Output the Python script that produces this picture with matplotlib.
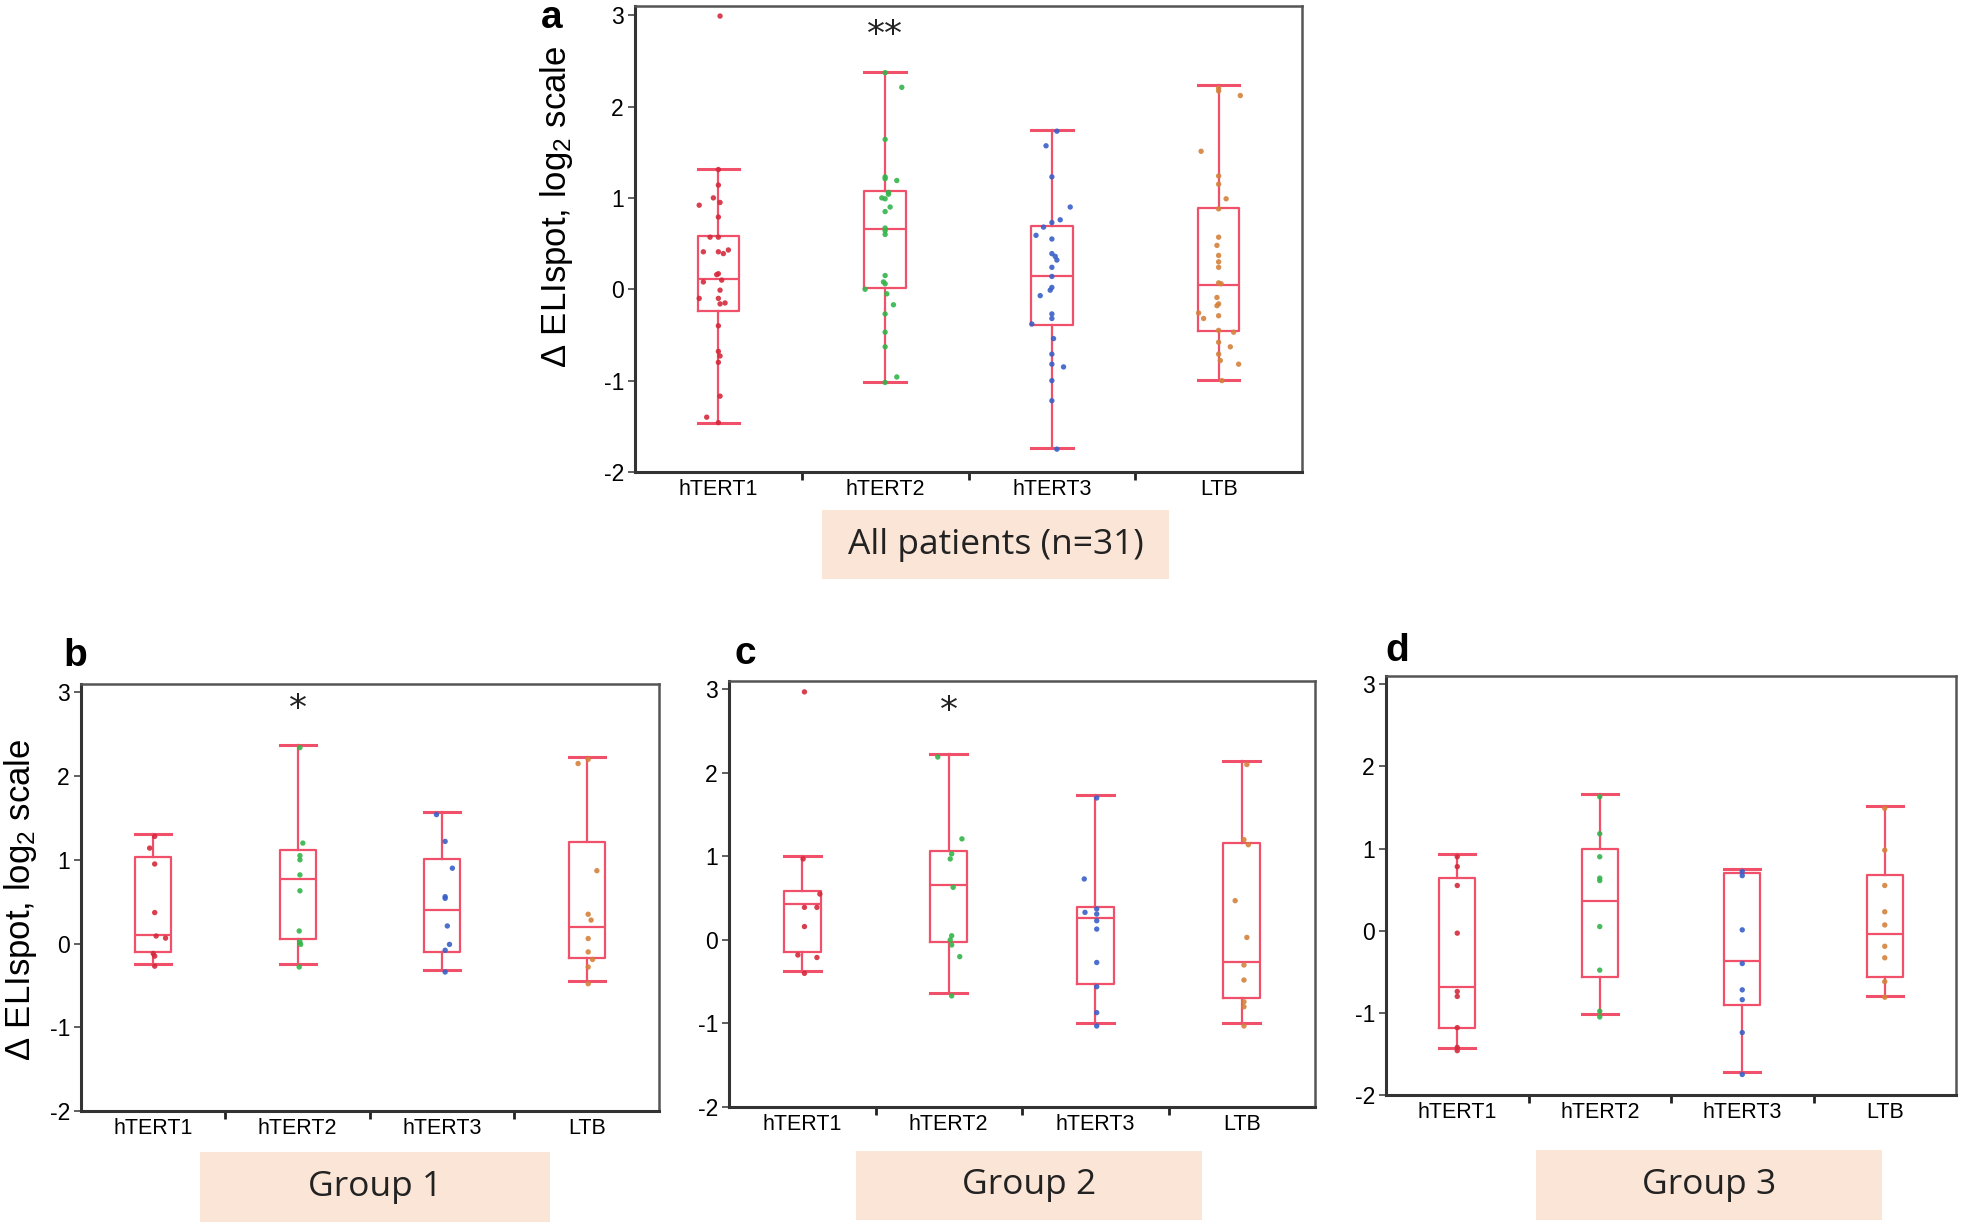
import matplotlib
matplotlib.use('Agg')
import matplotlib.pyplot as plt
from matplotlib.patches import Rectangle
import numpy as np

plt.rcParams['font.family'] = ['Liberation Sans', 'DejaVu Sans']
plt.rcParams['mathtext.fontset'] = 'custom'
plt.rcParams['mathtext.rm'] = 'Liberation Sans'
plt.rcParams['mathtext.default'] = 'regular'

# categories and colours of the dots
categories = ['hTERT1', 'hTERT2', 'hTERT3', 'LTB']
dot_colors = ['#d42a3c', '#33b54a', '#3a60c8', '#d4823c']
BOX_COLOR = '#f0506a'

# ---- panel a: all patients ----
a_hi = [1.32, 2.38, 1.74, 2.24]
a_q3 = [0.58, 1.07, 0.69, 0.89]
a_med = [0.11, 0.66, 0.15, 0.05]
a_q1 = [-0.24, 0.01, -0.39, -0.46]
a_lo = [-1.46, -1.01, -1.74, -0.99]
a_pts = [
    [2.99, 1.31, 1.14, 0.92, 1.0, 0.95, 0.79, 0.57, 0.57, 0.41, 0.41, 0.39, 0.43, 0.17, 0.16,
     0.08, 0.10, -0.10, -0.10, -0.01, -0.16, -0.15, -0.40, -0.68, -0.73, -0.80, -1.17, -1.40, -1.46],
    [2.37, 2.21, 1.64, 1.23, 1.21, 1.19, 1.06, 1.04, 1.0, 0.99, 0.90, 0.85, 0.67, 0.64, 0.60,
     0.15, 0.08, 0.06, 0.0, -0.05, -0.17, -0.27, -0.47, -0.63, -0.96, -1.02],
    [1.73, 1.57, 1.23, 0.90, 0.76, 0.73, 0.68, 0.59, 0.55, 0.39, 0.36, 0.32, 0.24, 0.14, 0.02,
     -0.01, -0.07, -0.27, -0.32, -0.38, -0.54, -0.71, -0.82, -0.85, -1.0, -1.22, -1.75],
    [2.20, 2.17, 2.12, 1.51, 1.24, 1.15, 0.99, 0.88, 0.57, 0.48, 0.37, 0.30, 0.24, 0.07, 0.06,
     -0.09, -0.16, -0.18, -0.26, -0.29, -0.32, -0.45, -0.47, -0.58, -0.63, -0.71, -0.78, -0.82, -1.0],
]
a_jit = [
    [0.01, 0, 0, -0.115, -0.03, 0.01, 0, -0.05, 0, -0.09, 0, 0.03, 0.06, 0, -0.01,
     -0.09, 0.02, -0.115, 0, 0.01, 0.01, 0.04, 0, 0, 0.01, 0, 0.01, -0.07, 0],
    [0, 0.1, 0, 0, 0, 0.07, 0.02, 0.02, -0.02, 0, 0.03, 0, 0, 0, 0,
     0, -0.01, 0, -0.12, 0.01, 0.05, 0, 0, 0, 0.07, 0],
    [0.03, -0.035, 0, 0.11, 0.05, 0, -0.05, -0.095, 0, 0, 0.02, 0.03, 0, 0, 0,
     -0.01, -0.07, 0, 0, -0.12, 0.01, 0, 0, 0.07, 0, 0, 0.03],
    [0, 0, 0.13, -0.105, 0, 0, 0.045, 0, 0, -0.01, 0, 0, 0, 0, 0.015,
     -0.01, 0, -0.01, -0.12, 0, -0.09, 0, 0.09, 0, 0.07, 0, 0.01, 0.12, 0.02],
]

# ---- panel b: group 1 ----
b_hi = [1.31, 2.37, 1.57, 2.23]
b_q3 = [1.03, 1.12, 1.01, 1.21]
b_med = [0.105, 0.765, 0.40, 0.20]
b_q1 = [-0.105, 0.05, -0.105, -0.17]
b_lo = [-0.24, -0.25, -0.31, -0.45]
b_pts = [
    [1.28, 1.14, 0.95, 0.37, 0.09, 0.065, -0.12, -0.15, -0.27],
    [2.34, 1.20, 1.05, 1.0, 0.82, 0.63, 0.15, 0.02, -0.01, -0.28],
    [1.54, 1.22, 0.90, 0.56, 0.54, 0.21, -0.01, -0.08, -0.34],
    [2.15, 2.20, 0.87, 0.35, 0.28, 0.06, -0.10, -0.19, -0.28, -0.48],
]
b_jit = [
    [0.01, -0.025, 0.01, 0.01, 0.02, 0.085, 0, 0.01, 0.01],
    [0.015, 0.035, 0.015, 0.015, 0.015, 0.015, 0.01, 0.015, 0.02, 0.01],
    [-0.04, 0.02, 0.07, 0.02, 0.02, 0.035, 0.05, 0.02, 0.02],
    [-0.06, 0.01, 0.07, 0.01, 0.03, 0.01, 0.01, 0.04, 0.01, 0.01],
]

# ---- panel c: group 2 ----
c_hi = [1.0, 2.23, 1.74, 2.14]
c_q3 = [0.58, 1.06, 0.40, 1.16]
c_med = [0.43, 0.66, 0.26, -0.26]
c_q1 = [-0.14, -0.02, -0.53, -0.70]
c_lo = [-0.37, -0.63, -1.0, -1.0]
c_pts = [
    [2.97, 0.97, 0.55, 0.39, 0.39, 0.16, -0.18, -0.21, -0.40],
    [2.19, 1.21, 1.03, 0.97, 0.63, 0.05, 0.0, -0.06, -0.20, -0.67],
    [1.70, 0.73, 0.33, 0.37, 0.31, 0.23, 0.13, -0.27, -0.56, -0.87, -1.03],
    [2.10, 1.20, 1.14, 0.47, 0.03, -0.30, -0.48, -0.74, -0.80, -1.03],
]
c_jit = [
    [0.015, 0.006, 0.12, 0.015, 0.1, 0.015, -0.03, 0.1, 0.015],
    [-0.075, 0.09, 0.02, 0.01, 0.03, 0.02, 0.01, 0.02, 0.075, 0.02],
    [0.01, -0.075, -0.07, 0.01, 0.01, 0.01, 0.01, 0.01, 0.01, 0.01, 0.01],
    [0.035, 0.015, 0.045, -0.045, 0.035, 0.015, 0.015, 0.015, 0.015, 0.015],
]

# ---- panel d: group 3 ----
d_hi = [0.93, 1.66, 0.75, 1.52]
d_q3 = [0.64, 0.99, 0.70, 0.68]
d_med = [-0.69, 0.365, -0.37, -0.04]
d_q1 = [-1.19, -0.56, -0.91, -0.56]
d_lo = [-1.43, -1.01, -1.72, -0.79]
d_pts = [
    [0.90, 0.78, 0.55, -0.03, -0.74, -0.80, -1.18, -1.42, -1.46],
    [1.63, 1.18, 0.90, 0.64, 0.61, 0.05, -0.48, -0.98, -1.05],
    [0.72, 0.67, 0.01, -0.40, -0.72, -0.84, -1.24, -1.75],
    [1.49, 0.98, 0.55, 0.23, 0.07, -0.19, -0.33, -0.62, -0.81],
]
d_jit = [[0.0] * len(p) for p in d_pts]

W, H = 1961, 1227
fig = plt.figure(figsize=(W / 100, H / 100), dpi=100)


def add_ax(left, right, top, bottom):
    """Оси в пиксельных координатах рисунка."""
    return fig.add_axes([left / W, 1 - bottom / H, (right - left) / W, (bottom - top) / H])


def draw_panel(ax, hi, q3, med, q1, lo, pts, jit, star=None, star_y=2.8):
    stats = []
    for i in range(len(categories)):
        stats.append(dict(whishi=hi[i], q3=q3[i], med=med[i], q1=q1[i], whislo=lo[i]))
    pos = np.arange(1, len(categories) + 1)
    line = dict(color=BOX_COLOR, linewidth=1.6)
    ax.bxp(stats, positions=pos, widths=0.25, capwidths=0.25, showfliers=False,
           boxprops=line, whiskerprops=line, medianprops=line,
           capprops=dict(color=BOX_COLOR, linewidth=2.2), zorder=2)
    for i in range(len(categories)):
        x = pos[i] + np.array(jit[i])
        ax.scatter(x, pts[i], s=15, color=dot_colors[i], edgecolors='none', zorder=3, alpha=0.9)
    if star:
        ax.text(2, star_y, star, ha='center', va='center', fontsize=26, color='#222222',
                family='DejaVu Sans')
    ax.set_xlim(0.5, 4.5)
    ax.set_ylim(-2, 3.1)
    ax.set_yticks([-2, -1, 0, 1, 2, 3])
    ax.set_yticklabels(['-2', '-1', '0', '1', '2', '3'])
    ax.set_xticks([1.5, 2.5, 3.5])
    ax.set_xticklabels([])
    ax.set_xticks(pos, minor=True)
    ax.set_xticklabels(categories, minor=True)
    ax.tick_params(axis='x', which='major', direction='out', length=6, width=2, color='#222222')
    ax.tick_params(axis='x', which='minor', length=0, labelsize=15.5, pad=5)
    ax.tick_params(axis='y', direction='out', length=5, width=1.2, color='#444444',
                   labelsize=16.5, pad=3)
    for side in ['left', 'bottom']:
        ax.spines[side].set_color('#333333')
        ax.spines[side].set_linewidth(2.2)
    for side in ['top', 'right']:
        ax.spines[side].set_color('#555555')
        ax.spines[side].set_linewidth(1.8)


def group_box(x0, x1, y0, y1, text):
    fig.patches.append(Rectangle((x0 / W, 1 - y1 / H), (x1 - x0) / W, (y1 - y0) / H,
                                 transform=fig.transFigure, facecolor='#fbe5d6',
                                 edgecolor='none', zorder=0))
    fig.text((x0 + x1) / 2 / W, 1 - (y0 + y1) / 2 / H, text, ha='center', va='center',
             fontsize=25.5, family='Open Sans', color='#222222')


ylab = r'Δ ELIspot, log$_2$ scale'

ax_a = add_ax(635, 1302, 6, 472)
draw_panel(ax_a, a_hi, a_q3, a_med, a_q1, a_lo, a_pts, a_jit, star='**', star_y=2.78)
ax_a.set_ylabel(ylab, fontsize=25)
ax_a.yaxis.set_label_coords(-0.09, 0.57)

ax_b = add_ax(81, 659, 684, 1111)
draw_panel(ax_b, b_hi, b_q3, b_med, b_q1, b_lo, b_pts, b_jit, star='*', star_y=2.8)
ax_b.set_ylabel(ylab, fontsize=25)
ax_b.yaxis.set_label_coords(-0.072, 0.494)

ax_c = add_ax(729, 1315, 681, 1107)
draw_panel(ax_c, c_hi, c_q3, c_med, c_q1, c_lo, c_pts, c_jit, star='*', star_y=2.74)

ax_d = add_ax(1386, 1956, 676, 1095)
draw_panel(ax_d, d_hi, d_q3, d_med, d_q1, d_lo, d_pts, d_jit)

# panel letters
for lx, ly, lt in [(552, 18, 'a'), (75, 656, 'b'), (745, 654, 'c'), (1397, 651, 'd')]:
    fig.text(lx / W, 1 - ly / H, lt, ha='center', va='center', fontsize=28, fontweight='bold')

group_box(822, 1169, 510, 579, 'All patients (n=31)')
group_box(200, 550, 1152, 1222, 'Group 1')
group_box(856, 1202, 1151, 1220, 'Group 2')
group_box(1536, 1882, 1150, 1220, 'Group 3')

fig.savefig('out.png', dpi=100)
plt.close(fig)
